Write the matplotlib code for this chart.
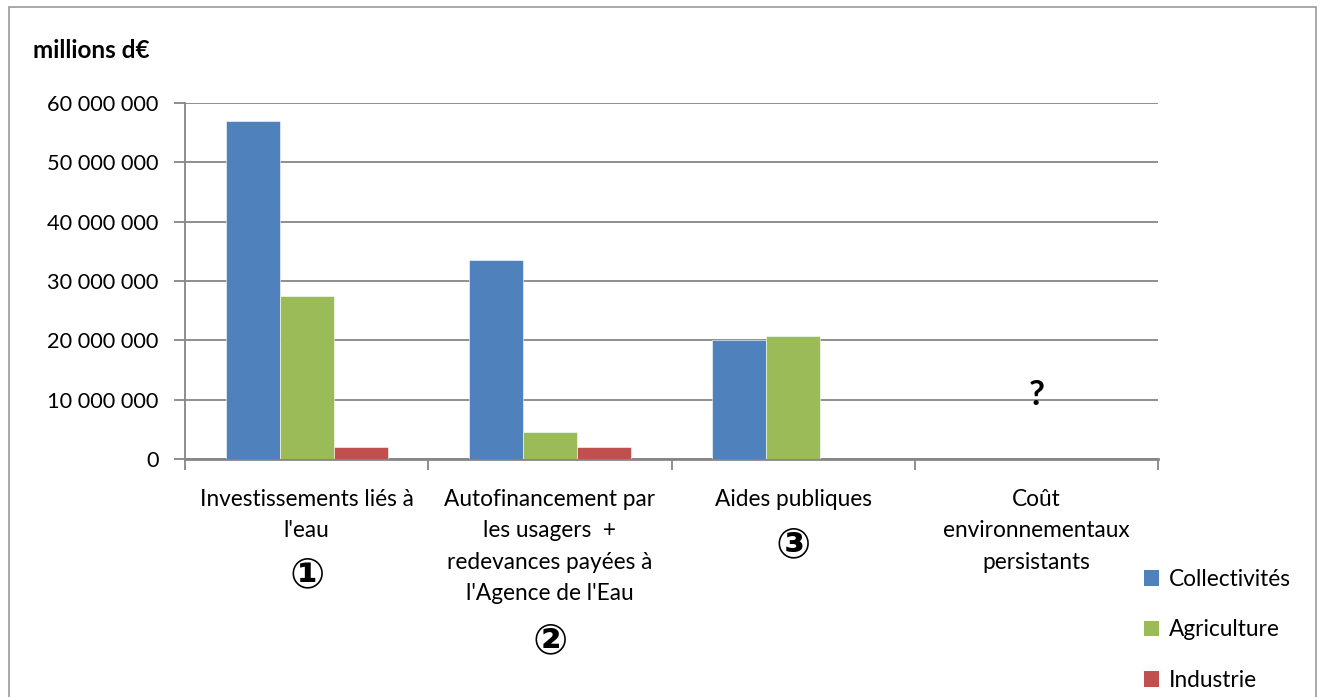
import numpy as np
import matplotlib
matplotlib.use("Agg")
import matplotlib.pyplot as plt
from matplotlib.patches import Rectangle, Patch

plt.rcParams['font.family'] = ['Lato', 'DejaVu Sans']

# data (euros)
categories = ["Investissements liés à\nl'eau",
              "Autofinancement par\nles usagers  +\nredevances payées à\nl'Agence de l'Eau",
              "Aides publiques",
              "Coût\nenvironnementaux\npersistants"]
markers = ["①", "②", "③", "?"]
series = ["Collectivités", "Agriculture", "Industrie"]
collectivites = [57_000_000, 33_600_000, 20_100_000, 0]
agriculture = [27_500_000, 4_500_000, 20_700_000, 0]
industrie = [2_100_000, 2_100_000, 0, 0]
colors = ["#4F81BD", "#9BBB59", "#C0504D"]
yticks = [0, 10_000_000, 20_000_000, 30_000_000, 40_000_000, 50_000_000, 60_000_000]

fig = plt.figure(figsize=(13.24, 6.97), dpi=100)
ax = fig.add_axes([185 / 1324, 1 - 459 / 697, (1158 - 185) / 1324, (459 - 103) / 697])

x = np.arange(len(categories))
w = 1 / 4.5
for i, (vals, col) in enumerate(zip([collectivites, agriculture, industrie], colors)):
    ax.bar(x + (i - 1) * w, vals, width=w, color=col, edgecolor="white", linewidth=0.4, zorder=3)

ax.set_xlim(-0.5, len(categories) - 0.5)
ax.set_ylim(0, 60_000_000)
ax.set_yticks(yticks)
ax.set_yticklabels([f"{v:,}".replace(",", " ") for v in yticks], fontsize=15.7)
ax.yaxis.grid(True, color="#868686", linewidth=1.3, zorder=0)
ax.set_xticks(np.arange(len(categories) + 1) - 0.5)
ax.set_xticklabels([])
ax.tick_params(axis="x", length=8, width=1.3, color="#868686", direction="out")
ax.tick_params(axis="y", length=8, width=1.3, color="#868686", direction="out", pad=11)
for s in ["top", "right"]:
    ax.spines[s].set_visible(False)
ax.spines["left"].set_color("#868686")
ax.spines["left"].set_linewidth(1.3)
ax.spines["bottom"].set_color("#868686")
ax.spines["bottom"].set_linewidth(2)
ax.set_axisbelow(True)

# category labels under the axis (offsets in points, 1 pt = 1.39 px)
for xi, lab in zip(x, categories):
    ax.annotate(lab, xy=(xi, 0), xytext=(0, -21.5), textcoords="offset points",
                ha="center", va="top", fontsize=16.3, linespacing=1.62)
marker_offsets = [-83.5, -131, -62]
for xi, m, off in zip(x[:3], markers[:3], marker_offsets):
    ax.annotate(m, xy=(xi, 0), xytext=(0, off), textcoords="offset points",
                ha="center", va="center", fontsize=30, fontweight="bold",
                family=['DejaVu Sans', 'Noto Sans CJK SC'])
ax.text(x[3], 10_800_000, markers[3], ha="center", va="center", fontsize=25, fontweight="bold")

fig.text(33 / 1324, 1 - 50 / 697, "millions d€", fontsize=17.5, fontweight="bold", va="center")

handles = [Patch(facecolor=c, edgecolor="none") for c in colors]
fig.legend(handles, series, loc="upper left", bbox_to_anchor=(1135 / 1324, 1 - 560 / 697),
           frameon=False, fontsize=16.3, handlelength=0.68, handleheight=0.68,
           handletextpad=0.4, labelspacing=1.3, borderaxespad=0)

fig.patches.append(Rectangle((9 / 1324, -0.02), (1316 - 9) / 1324, 1 - 7 / 697 + 0.02,
                             transform=fig.transFigure, fill=False, edgecolor="#9a9a9a",
                             linewidth=1.2))

fig.savefig("out.png", dpi=100)
